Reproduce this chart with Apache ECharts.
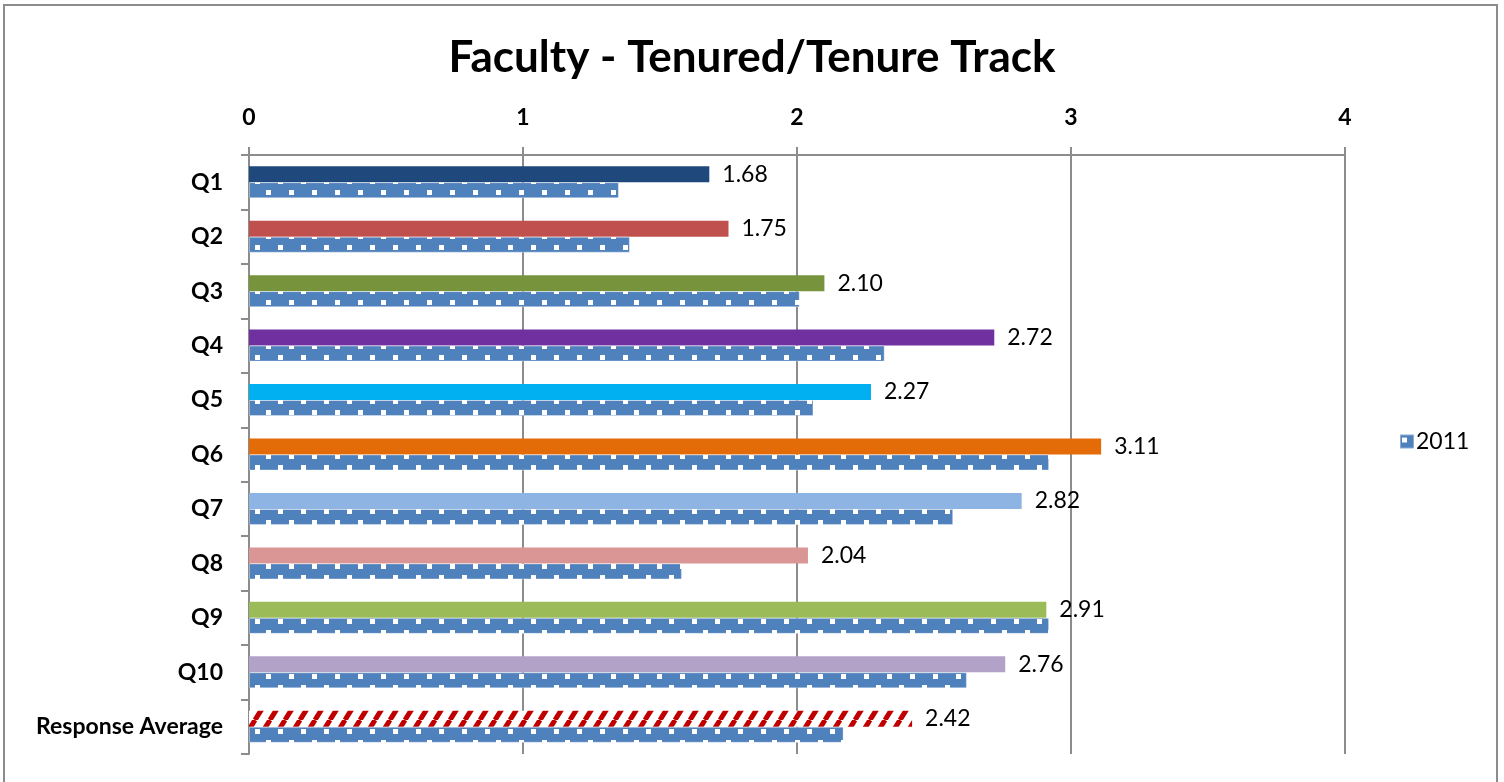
<!DOCTYPE html>
<html>
<head>
<meta charset="utf-8">
<title>Faculty - Tenured/Tenure Track</title>
<script src="https://cdn.jsdelivr.net/npm/echarts@6/dist/echarts.min.js"></script>
<style>
  html, body { margin: 0; padding: 0; background: #ffffff; }
  #chart { width: 1504px; height: 782px; }
</style>
</head>
<body>
<div id="chart"></div>
<script>
// Survey questions, top to bottom
const categories = ['Q1', 'Q2', 'Q3', 'Q4', 'Q5', 'Q6', 'Q7', 'Q8', 'Q9', 'Q10', 'Response Average'];
// Current results (labelled bars)
const currentValues = [1.68, 1.75, 2.10, 2.72, 2.27, 3.11, 2.82, 2.04, 2.91, 2.76, 2.42];
// 2011 results
const values2011 = [1.35, 1.39, 2.01, 2.32, 2.06, 2.92, 2.57, 1.58, 2.92, 2.62, 2.17];
// Value axis ticks
const axisTicks = [0, 1, 2, 3, 4];

// One fill per question; the last entry (average) gets the hatch pattern
const barColors = ['#1F497D', '#C0504D', '#77933C', '#7030A0', '#00B0F0', '#E36C09',
                   '#8EB4E3', '#D99694', '#9BBB59', '#B3A2C7'];

const FONT = 'Lato, "Open Sans", sans-serif';

// Blue fill with small white squares in staggered rows
function dottedPattern() {
  const c = document.createElement('canvas');
  c.width = 23; c.height = 22;
  const g = c.getContext('2d');
  g.fillStyle = '#4F81BD';
  g.fillRect(0, 0, 23, 22);
  g.fillStyle = '#ffffff';
  g.fillRect(2, 3, 5, 5);
  g.fillRect(13, 14, 5, 5);
  return c;
}

// Steep red diagonal stripes on white
function hatchPattern() {
  const w = 15, h = 24;
  const c = document.createElement('canvas');
  c.width = w; c.height = h;
  const g = c.getContext('2d');
  g.fillStyle = '#ffffff';
  g.fillRect(0, 0, w, h);
  g.strokeStyle = '#C00000';
  g.lineWidth = 5;
  g.beginPath();
  for (let k = -1; k <= 1; k++) {
    g.moveTo(k * w, h);
    g.lineTo(k * w + w, 0);
  }
  g.stroke();
  return c;
}

const dotted = { image: dottedPattern(), repeat: 'repeat' };
const hatch = { image: hatchPattern(), repeat: 'repeat' };

const currentData = currentValues.map((v, i) => ({
  value: v,
  itemStyle: { color: i < barColors.length ? barColors[i] : hatch }
}));

const chart = echarts.init(document.getElementById('chart'), null, { renderer: 'canvas' });

chart.setOption({
  backgroundColor: '#ffffff',
  animation: false,
  textStyle: { fontFamily: FONT },
  title: {
    text: 'Faculty - Tenured/Tenure Track',
    left: 'center',
    top: 31,
    textStyle: { fontFamily: FONT, fontSize: 44, fontWeight: 'bold', color: '#000000' }
  },
  graphic: [{
    type: 'rect',
    shape: { x: 4, y: 5, width: 1493, height: 820 },
    style: { fill: 'none', stroke: '#8c8c8c', lineWidth: 2 },
    silent: true
  }],
  legend: {
    data: ['2011'],
    left: 1394,
    top: 425,
    itemWidth: 14,
    itemHeight: 14,
    itemGap: 6,
    icon: 'rect',
    textStyle: { fontFamily: FONT, fontSize: 23, color: '#000000', padding: [0, 0, 0, -3] }
  },
  grid: { left: 249, right: 159, top: 155, bottom: 28, containLabel: false },
  xAxis: {
    type: 'value',
    position: 'top',
    min: axisTicks[0],
    max: axisTicks[axisTicks.length - 1],
    interval: 1,
    axisLine: { show: true, lineStyle: { color: '#8c8c8c', width: 2 } },
    axisTick: { show: true, length: 8, lineStyle: { color: '#8c8c8c', width: 2 } },
    axisLabel: {
      margin: 26,
      fontFamily: FONT, fontSize: 23, fontWeight: 'bold', color: '#000000',
      formatter: v => String(v)
    },
    splitLine: { show: true, lineStyle: { color: '#8c8c8c', width: 2 } }
  },
  yAxis: {
    type: 'category',
    data: categories,
    inverse: true,
    axisLine: { show: true, lineStyle: { color: '#8c8c8c', width: 2 } },
    axisTick: { show: true, length: 8, lineStyle: { color: '#8c8c8c', width: 2 } },
    axisLabel: {
      margin: 26,
      fontFamily: FONT, fontSize: 23, fontWeight: 'bold', color: '#000000'
    }
  },
  series: [
    {
      name: 'Current',
      type: 'bar',
      data: currentData,
      barWidth: 16,
      barGap: '0%',
      label: {
        show: true,
        position: 'right',
        distance: 13,
        fontFamily: FONT, fontSize: 23, color: '#000000',
        formatter: p => p.value.toFixed(2)
      }
    },
    {
      name: '2011',
      type: 'bar',
      data: values2011,
      barWidth: 16,
      barGap: '0%',
      itemStyle: { color: dotted, borderColor: 'rgba(255,255,255,0.35)', borderWidth: 1 }
    }
  ]
});
</script>
</body>
</html>
